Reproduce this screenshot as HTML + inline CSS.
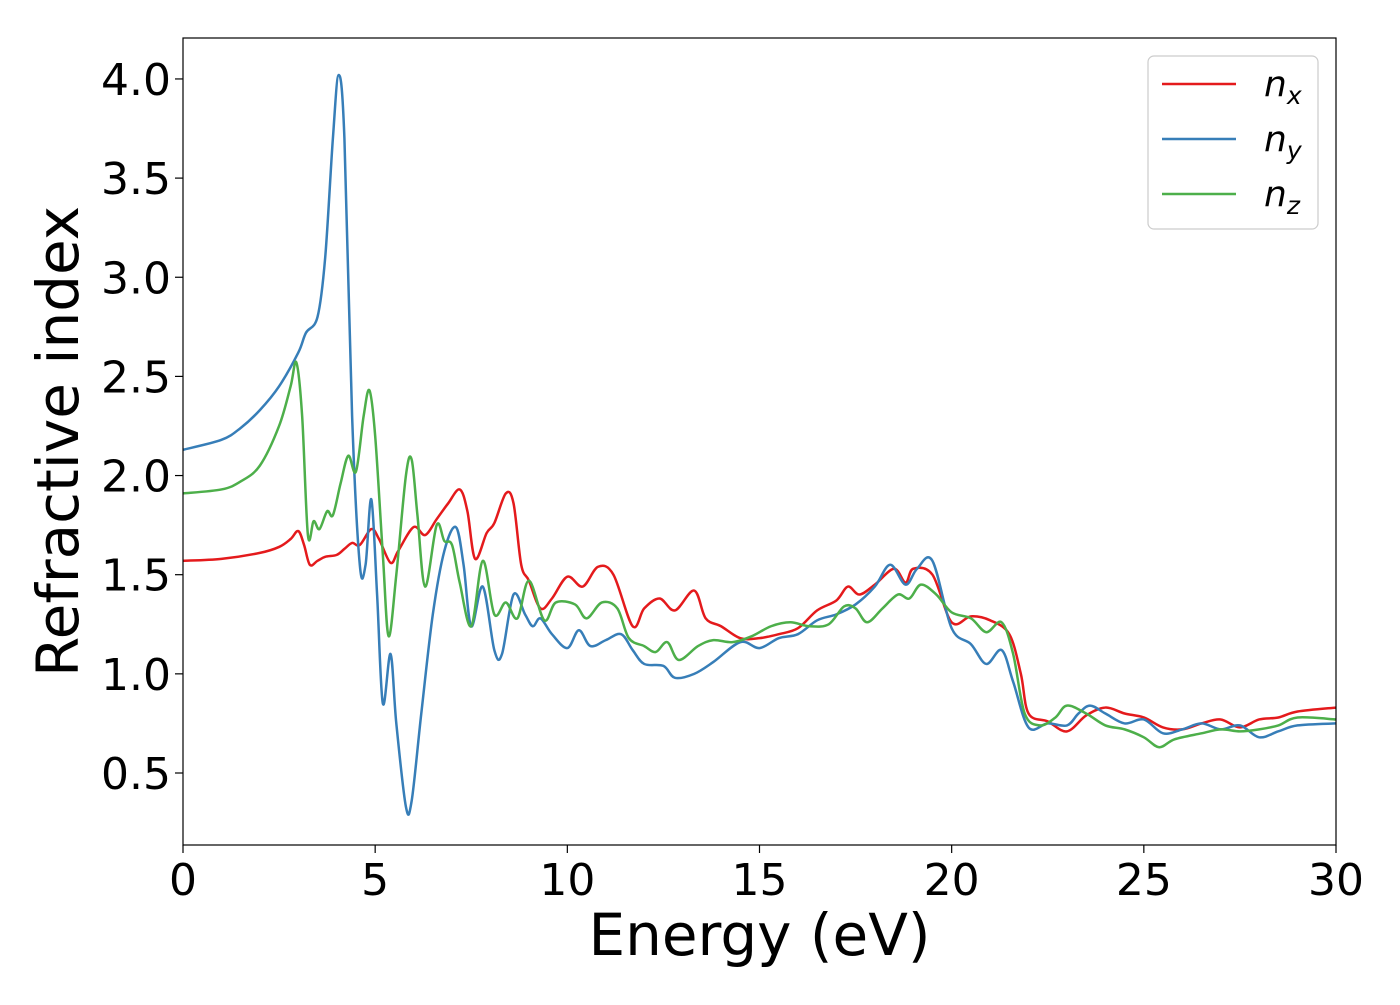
<!DOCTYPE html>
<html><head><meta charset="utf-8"><style>
body{margin:0;background:#fff}
svg text{font-family:"DejaVu Sans","Liberation Sans",sans-serif;fill:#000}
</style></head><body>
<svg id="chart" width="1400" height="1000" xmlns="http://www.w3.org/2000/svg">
<g id="plot"></g>
</svg>
<script>
const xTicks=[0,5,10,15,20,25,30];
const yTicks=[0.5,1.0,1.5,2.0,2.5,3.0,3.5,4.0];
const yTickLabels=["0.5","1.0","1.5","2.0","2.5","3.0","3.5","4.0"];
const nxE=[0,1,2,2.5,2.8,3.0,3.15,3.3,3.5,3.7,4.0,4.2,4.4,4.6,4.9,5.1,5.4,5.6,6.0,6.3,6.6,6.9,7.2,7.4,7.6,7.9,8.1,8.4,8.6,8.8,9.0,9.3,9.6,10.0,10.4,10.8,11.2,11.7,12.0,12.4,12.8,13.3,13.6,14.0,14.5,15,15.5,16,16.5,17,17.3,17.6,18,18.5,18.8,19.0,19.5,20.0,20.5,21,21.5,21.8,22.0,22.5,23,23.5,24,24.5,25,25.5,26,26.5,27,27.5,28,28.5,29,30];
const nxV=[1.57,1.58,1.61,1.64,1.68,1.72,1.65,1.55,1.57,1.59,1.60,1.63,1.66,1.65,1.73,1.68,1.56,1.62,1.74,1.70,1.78,1.86,1.93,1.82,1.58,1.71,1.76,1.91,1.86,1.55,1.47,1.33,1.38,1.49,1.44,1.54,1.50,1.24,1.33,1.38,1.32,1.42,1.28,1.24,1.18,1.18,1.20,1.23,1.32,1.37,1.44,1.40,1.45,1.53,1.46,1.53,1.50,1.26,1.29,1.27,1.20,1.00,0.80,0.76,0.71,0.79,0.83,0.80,0.78,0.73,0.72,0.75,0.77,0.73,0.77,0.78,0.81,0.83];
const nyE=[0,1,1.5,2,2.5,3,3.2,3.5,3.7,3.9,4.05,4.2,4.4,4.6,4.75,4.9,5.05,5.2,5.4,5.55,5.8,5.95,6.2,6.5,6.8,7.1,7.3,7.5,7.8,8.1,8.3,8.6,8.9,9.1,9.3,9.6,10,10.3,10.6,11,11.4,11.7,12,12.5,12.8,13.3,13.8,14.5,15,15.5,16,16.5,17,17.5,18,18.4,18.8,19.1,19.5,20,20.5,20.9,21.3,21.6,22,22.5,23,23.3,23.6,24,24.5,25,25.5,26,26.5,27,27.5,28,28.5,29,30];
const nyV=[2.13,2.18,2.24,2.33,2.45,2.62,2.72,2.80,3.1,3.7,4.02,3.7,2.3,1.55,1.55,1.88,1.40,0.85,1.10,0.75,0.33,0.36,0.80,1.30,1.62,1.74,1.55,1.24,1.44,1.12,1.10,1.40,1.30,1.24,1.28,1.20,1.13,1.22,1.14,1.17,1.20,1.12,1.05,1.04,0.98,1.00,1.06,1.16,1.13,1.18,1.20,1.27,1.30,1.35,1.44,1.55,1.45,1.53,1.57,1.23,1.15,1.05,1.12,0.96,0.73,0.75,0.74,0.80,0.84,0.80,0.75,0.77,0.70,0.72,0.75,0.72,0.74,0.68,0.71,0.74,0.75];
const nzE=[0,1,1.5,2,2.5,2.8,2.95,3.1,3.25,3.4,3.55,3.75,3.9,4.1,4.3,4.5,4.7,4.85,5.0,5.2,5.35,5.55,5.8,5.95,6.1,6.3,6.6,6.8,7.0,7.2,7.5,7.8,8.1,8.4,8.7,9.0,9.4,9.7,10.2,10.5,10.9,11.3,11.6,12,12.3,12.6,12.9,13.4,13.8,14.3,14.8,15.3,15.8,16.3,16.8,17.2,17.5,17.8,18.2,18.6,18.9,19.2,19.6,20,20.5,20.9,21.3,21.6,21.9,22.3,22.7,23,23.5,24,24.5,25,25.4,25.8,26.5,27,27.5,28,28.5,29,30];
const nzV=[1.91,1.93,1.97,2.05,2.25,2.45,2.57,2.30,1.70,1.77,1.73,1.82,1.80,1.96,2.10,2.02,2.30,2.43,2.20,1.60,1.19,1.50,2.00,2.08,1.80,1.44,1.75,1.67,1.65,1.46,1.24,1.57,1.30,1.36,1.28,1.47,1.27,1.36,1.35,1.28,1.36,1.33,1.18,1.14,1.11,1.16,1.07,1.14,1.17,1.16,1.19,1.24,1.26,1.24,1.25,1.34,1.33,1.26,1.33,1.40,1.38,1.45,1.40,1.31,1.28,1.21,1.26,1.10,0.80,0.74,0.78,0.84,0.80,0.74,0.72,0.68,0.63,0.67,0.70,0.72,0.71,0.72,0.74,0.78,0.77];

const L=183,R=1336,T=38,B=845;
const X=v=>L+(v-0)*(R-L)/30;
const Y=v=>773-(v-0.5)*198.3;
const NS="http://www.w3.org/2000/svg";
const svg=document.getElementById('chart');
function mk(tag,attrs,parent){const e=document.createElementNS(NS,tag);for(const k in attrs)e.setAttribute(k,attrs[k]);(parent||svg).appendChild(e);return e;}
const clip=mk('clipPath',{id:'cp'});mk('rect',{x:L,y:T,width:R-L,height:B-T},clip);
function path(E,V){const p=E.map((e,i)=>[X(e),Y(V[i])]);let d=`M${p[0][0]},${p[0][1]}`;
for(let i=0;i<p.length-1;i++){const p0=p[Math.max(0,i-1)],p1=p[i],p2=p[i+1],p3=p[Math.min(p.length-1,i+2)];
const c1=[p1[0]+(p2[0]-p0[0])/6,p1[1]+(p2[1]-p0[1])/6],c2=[p2[0]-(p3[0]-p1[0])/6,p2[1]-(p3[1]-p1[1])/6];
d+=`C${c1[0]},${c1[1]} ${c2[0]},${c2[1]} ${p2[0]},${p2[1]}`;}return d;}
const series=[[nxE,nxV,'#e41a1c','series-nx'],[nyE,nyV,'#377eb8','series-ny'],[nzE,nzV,'#4daf4a','series-nz']];
const g=document.getElementById('plot');
series.forEach(s=>{const e=mk('path',{d:path(s[0],s[1]),fill:'none',stroke:s[2],'stroke-width':2.5,'clip-path':'url(#cp)'},g);

});
const fr=mk('rect',{x:L,y:T,width:R-L,height:B-T,fill:'none',stroke:'#000','stroke-width':1.2});


xTicks.forEach(t=>{mk('line',{x1:X(t),x2:X(t),y1:B,y2:B+8,stroke:'#000','stroke-width':1.2});
const tx=mk('text',{x:X(t),y:B+50,'font-size':44,'text-anchor':'middle'});tx.textContent=t;

});
yTicks.forEach((t,i)=>{mk('line',{x1:L-8,x2:L,y1:Y(t),y2:Y(t),stroke:'#000','stroke-width':1.2});
const tx=mk('text',{x:L-12,y:Y(t)+16,'font-size':44,'text-anchor':'end'});tx.textContent=yTickLabels[i];

});
const xt=mk('text',{x:(L+R)/2,y:955,'font-size':58,'text-anchor':'middle'});xt.textContent='Energy (eV)';


const yt=mk('text',{x:78,y:(T+B)/2,'font-size':58,'text-anchor':'middle',transform:`rotate(-90 78 ${(T+B)/2})`});yt.textContent='Refractive index';


const lg=mk('g',{});


mk('rect',{x:1148,y:56,width:170,height:173,rx:6,fill:'#fff',stroke:'#ccc','stroke-width':1.2},lg);
['x','y','z'].forEach((s,i)=>{const y=84+i*55;
mk('line',{x1:1162,x2:1236,y1:y,y2:y,stroke:series[i][2],'stroke-width':2.5},lg);
const t=mk('text',{x:1264,y:y+12,'font-size':36,'font-style':'italic'},lg);
t.innerHTML=`n<tspan font-size="25" dy="8">${s}</tspan>`;

});
</script>
</body></html>
